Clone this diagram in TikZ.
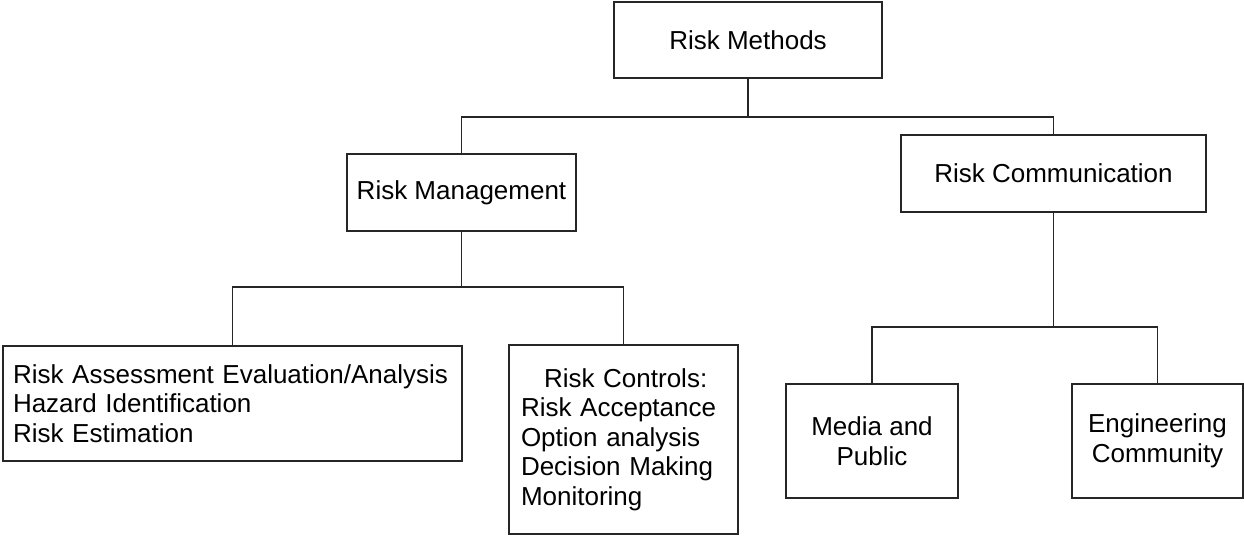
\documentclass[tikz,border=0pt]{standalone}
\usepackage{fontspec}
\setmainfont{Liberation Sans}
\begin{document}
\begin{tikzpicture}[x=1pt,y=-1pt,
        riskbox/.style={draw=black!85,line width=1.2pt,rectangle,inner sep=0pt},
        wire/.style={draw=black!85,line width=1.2pt}]

        \fontsize{26}{29.5}\selectfont
        \useasboundingbox (0,0) rectangle (1244,536);

        \node[riskbox,minimum width=268pt,minimum height=76pt] (methods) at (748,40) {Risk Methods};
        \node[riskbox,minimum width=229pt,minimum height=77pt] (mgmt) at (461.5,192.5) {Risk Management};
        \node[riskbox,minimum width=305pt,minimum height=77pt] (comm) at (1053.5,173.5) {Risk Communication};

        \node[riskbox,minimum height=115pt,text width=439pt,inner xsep=10pt,align=left] (assess) at (232.5,403.5)
            {Risk Assessment Evaluation/Analysis\\Hazard Identification\\Risk Estimation};
        \node[riskbox,minimum height=189pt,text width=205pt,inner xsep=12pt,align=left] (controls) at (623.5,439.5)
            {\hspace*{23pt}Risk Controls:\\Risk Acceptance\\Option analysis\\Decision Making\\Monitoring};

        \node[riskbox,minimum width=172pt,minimum height=114pt,align=center] (media) at (872,441) {Media and\\Public};
        \node[riskbox,minimum width=171pt,minimum height=114pt,align=center] (eng) at (1157.5,441) {Engineering\\Community};

        \coordinate (j1) at (748,117);
        \coordinate (j2) at (461.5,287);
        \coordinate (j3) at (1053.5,327);

        \draw[wire] (methods.south) -- (j1);
        \draw[wire] (mgmt.north) |- (j1) -| (comm.north);
        \draw[wire] (mgmt.south) -- (j2);
        \draw[wire] (assess.north) |- (j2) -| (controls.north);
        \draw[wire] (comm.south) -- (j3);
        \draw[wire] (media.north) |- (j3) -| (eng.north);
    \end{tikzpicture}
\end{document}
